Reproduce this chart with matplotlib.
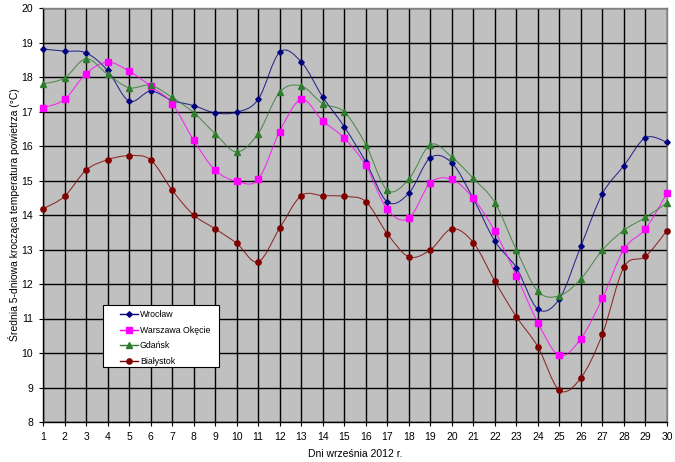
import numpy as np
import matplotlib.pyplot as plt
from matplotlib.path import Path
from matplotlib.patches import PathPatch, Rectangle
from matplotlib.lines import Line2D

plt.rcParams['font.family'] = ['Liberation Sans', 'DejaVu Sans']

# Data: 5-day moving average of air temperature, September 2012
days = list(range(1, 31))

wroclaw = [18.81, 18.75, 18.70, 18.19, 17.30, 17.59, 17.32, 17.17, 16.96, 16.98,
           17.35, 18.72, 18.44, 17.42, 16.56, 15.54, 14.38, 14.63, 15.66, 15.51,
           14.47, 13.24, 12.47, 11.27, 11.57, 13.10, 14.62, 15.43, 16.24, 16.11]

warszawa = [17.11, 17.35, 18.10, 18.43, 18.17, 17.74, 17.23, 16.17, 15.30, 14.98,
            15.03, 16.42, 17.35, 16.73, 16.23, 15.44, 14.16, 13.90, 14.93, 15.03,
            14.48, 13.53, 12.24, 10.88, 9.93, 10.42, 11.59, 13.01, 13.60, 14.63]

gdansk = [17.80, 17.97, 18.53, 18.08, 17.69, 17.76, 17.41, 16.97, 16.36, 15.83,
          16.36, 17.56, 17.74, 17.23, 16.99, 16.04, 14.72, 15.04, 16.04, 15.68,
          15.06, 14.36, 12.99, 11.79, 11.66, 12.15, 12.99, 13.56, 13.93, 14.35]

bialystok = [14.18, 14.54, 15.30, 15.60, 15.72, 15.60, 14.72, 14.00, 13.60, 13.18,
             12.64, 13.62, 14.56, 14.56, 14.54, 14.39, 13.46, 12.79, 12.99, 13.60,
             13.20, 12.08, 11.05, 10.18, 8.92, 9.28, 10.55, 12.49, 12.80, 13.55]

series = [
    ('Wrocław', wroclaw, '#000080', 'D', 2.8),
    ('Warszawa Okęcie', warszawa, '#FF00FF', 's', 4.3),
    ('Gdańsk', gdansk, '#2E7D2E', '^', 4.3),
    ('Białystok', bialystok, '#800000', 'o', 3.8),
]


def smooth_path(x, y):
    # Excel-like smoothed line drawn as cubic Bezier segments
    x = np.asarray(x, float)
    y = np.asarray(y, float)
    n = len(x)
    verts = [(x[0], y[0])]
    codes = [Path.MOVETO]
    for i in range(n - 1):
        p0 = max(i - 1, 0)
        p3 = min(i + 2, n - 1)
        c1 = (x[i] + (x[i + 1] - x[p0]) / 6, y[i] + (y[i + 1] - y[p0]) / 6)
        c2 = (x[i + 1] - (x[p3] - x[i]) / 6, y[i + 1] - (y[p3] - y[i]) / 6)
        verts += [c1, c2, (x[i + 1], y[i + 1])]
        codes += [Path.CURVE4] * 3
    return Path(verts, codes)


fig = plt.figure(figsize=(6.75, 4.62), dpi=100)
ax = fig.add_axes([43 / 675, 40 / 462, 624 / 675, 414 / 462])
ax.set_facecolor('#C0C0C0')

handles = []
for name, vals, color, marker, ms in series:
    ax.add_patch(PathPatch(smooth_path(days, vals), facecolor='none',
                           edgecolor=color, lw=0.75, alpha=0.8, zorder=3))
    ax.plot(days, vals, linestyle='none', marker=marker, ms=ms,
            color=color, zorder=4, clip_on=False)
    handles.append(Line2D([], [], color=color, lw=1.0, marker=marker, ms=ms))

ax.set_xlim(1, 30)
ax.set_ylim(8, 20)
ax.set_xticks(days)
ax.set_yticks(range(8, 21))
ax.grid(True, color='black', lw=1.0)
ax.set_axisbelow(True)
ax.tick_params(labelsize=7.5, length=3, width=0.8, direction='out', pad=4)

for s in ['left', 'bottom']:
    ax.spines[s].set_color('black')
    ax.spines[s].set_linewidth(1.0)
for s in ['top', 'right']:
    ax.spines[s].set_color('#808080')
    ax.spines[s].set_linewidth(1.0)

ax.set_xlabel('Dni września 2012 r.', fontsize=7.5, labelpad=5)
ax.set_ylabel('Średnia 5-dniowa krocząca temperatura powietrza (°C)', fontsize=7.5, labelpad=1)

# legend box drawn separately so entries can sit indented like in Excel
ax.add_patch(Rectangle((60 / 624, 55 / 414), 116 / 624, 62 / 414,
                       transform=ax.transAxes, facecolor='white',
                       edgecolor='black', lw=0.8, zorder=9, clip_on=False))
leg = ax.legend(handles, [s[0] for s in series], loc='upper left',
                bbox_to_anchor=((115 - 43) / 624, (422 - 305) / 414),
                fontsize=6.3, frameon=False, handlelength=2.0,
                labelspacing=0.75, borderpad=0.6, borderaxespad=0,
                handletextpad=0.25)
leg.set_zorder(10)

plt.savefig('out.png', dpi=100)
